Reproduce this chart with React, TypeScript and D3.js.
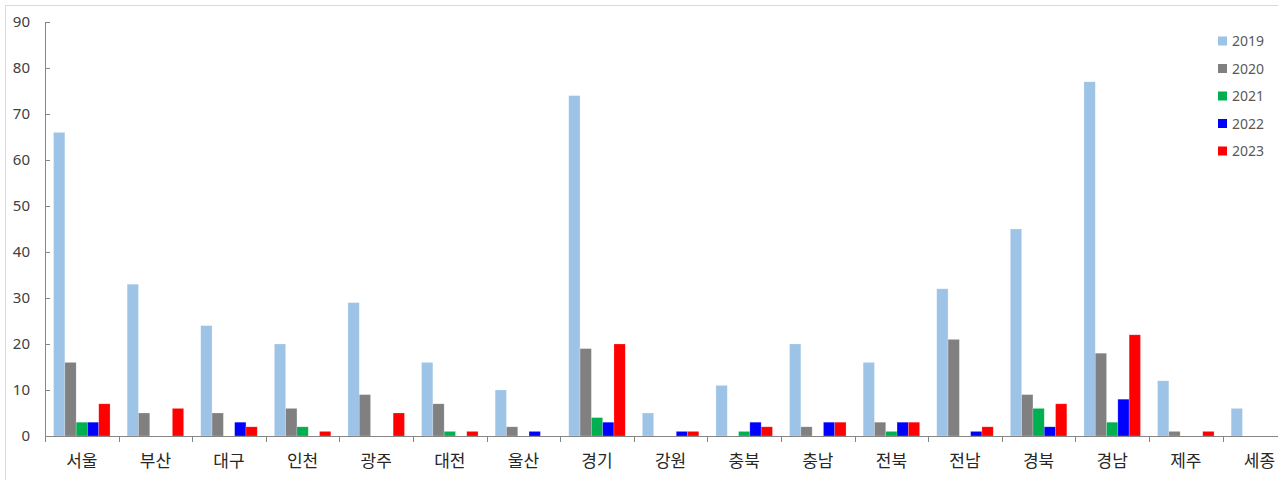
import React, { useEffect, useRef } from 'react';
import * as d3 from 'd3';

const regions = ['서울', '부산', '대구', '인천', '광주', '대전', '울산', '경기', '강원', '충북', '충남', '전북', '전남', '경북', '경남', '제주', '세종'];
const years = ['2019', '2020', '2021', '2022', '2023'];
const v2019 = [66, 33, 24, 20, 29, 16, 10, 74, 5, 11, 20, 16, 32, 45, 77, 12, 6];
const v2020 = [16, 5, 5, 6, 9, 7, 2, 19, 0, 0, 2, 3, 21, 9, 18, 1, 0];
const v2021 = [3, 0, 0, 2, 0, 1, 0, 4, 0, 1, 0, 1, 0, 6, 3, 0, 0];
const v2022 = [3, 0, 3, 0, 0, 0, 1, 3, 1, 3, 3, 3, 1, 2, 8, 0, 0];
const v2023 = [7, 6, 2, 1, 5, 1, 0, 20, 1, 2, 3, 3, 2, 7, 22, 1, 0];
const colors = ['#9DC3E6', '#808080', '#00B050', '#0000FF', '#FF0000'];
const yTicks = [0, 10, 20, 30, 40, 50, 60, 70, 80, 90];

const W = 1287;
const H = 480;

const App = () => {
    const svgRef = useRef<SVGSVGElement | null>(null);

    useEffect(() => {
        if (!svgRef.current) return;
        const svg = d3.select(svgRef.current);
        svg.selectAll('*').remove();

        const series = [v2019, v2020, v2021, v2022, v2023];
        const left = 45;
        const step = 73.6;

        // scales
        const x = d3.scaleBand<string>()
            .domain(regions)
            .range([left, left + step * regions.length])
            .padding(0);
        const x1 = d3.scaleBand<string>()
            .domain(years)
            .range([8.55, step - 8.55])
            .padding(0);
        const y = d3.scaleLinear().domain([0, 90]).range([436, 22]);

        // outer frame (top and left edges visible)
        svg.append('path')
            .attr('d', `M5.5,${H} V5.5 H1278`)
            .attr('fill', 'none')
            .attr('stroke', '#D9D9D9');

        // bars
        const groups = svg.append('g')
            .selectAll('g')
            .data(regions)
            .enter()
            .append('g')
            .attr('transform', (d) => `translate(${x(d)},0)`);

        groups.selectAll('rect')
            .data((_, i) => years.map((yr, j) => ({ yr, v: series[j][i], c: colors[j] })))
            .enter()
            .filter((d) => d.v > 0)
            .append('rect')
            .attr('x', (d) => x1(d.yr)!)
            .attr('y', (d) => y(d.v))
            .attr('width', x1.bandwidth())
            .attr('height', (d) => y(0) - y(d.v))
            .attr('fill', (d) => d.c)
            .attr('stroke', '#ffffff')
            .attr('stroke-opacity', 0.35)
            .attr('stroke-width', 0.6);

        // y axis
        const axisColor = '#868686';
        svg.append('line')
            .attr('x1', left + 0.5).attr('x2', left + 0.5)
            .attr('y1', y(90)).attr('y2', y(0))
            .attr('stroke', axisColor);
        svg.append('g')
            .selectAll('line')
            .data(yTicks)
            .enter()
            .append('line')
            .attr('x1', left).attr('x2', left + 5)
            .attr('y1', (d) => Math.round(y(d)) + 0.5)
            .attr('y2', (d) => Math.round(y(d)) + 0.5)
            .attr('stroke', axisColor);
        svg.append('g')
            .selectAll('text')
            .data(yTicks)
            .enter()
            .append('text')
            .attr('x', 30)
            .attr('y', (d) => y(d))
            .attr('dy', '0.36em')
            .attr('text-anchor', 'end')
            .attr('font-family', '"Noto Sans", "DejaVu Sans", sans-serif')
            .attr('font-size', 15)
            .attr('fill', '#404040')
            .text((d) => d);

        // x axis
        svg.append('line')
            .attr('x1', left).attr('x2', 1278)
            .attr('y1', y(0) + 0.5).attr('y2', y(0) + 0.5)
            .attr('stroke', axisColor);
        const xTicks = d3.range(regions.length + 1).map((i) => left + i * step);
        svg.append('g')
            .selectAll('line')
            .data(xTicks)
            .enter()
            .append('line')
            .attr('x1', (d) => Math.round(d) + 0.5)
            .attr('x2', (d) => Math.round(d) + 0.5)
            .attr('y1', y(0)).attr('y2', y(0) + 6)
            .attr('stroke', axisColor);
        svg.append('g')
            .selectAll('text')
            .data(regions)
            .enter()
            .append('text')
            .attr('x', (d) => x(d)! + step / 2)
            .attr('y', 461)
            .attr('dy', '0.36em')
            .attr('text-anchor', 'middle')
            .attr('font-family', '"Noto Sans CJK KR", sans-serif')
            .attr('font-size', 17)
            .attr('fill', '#262626')
            .text((d) => d);

        // legend
        const legend = svg.append('g')
            .selectAll('g')
            .data(years)
            .enter()
            .append('g')
            .attr('transform', (_, i) => `translate(1218,${41 + i * 27.5})`);
        legend.append('rect')
            .attr('x', 0).attr('y', -4.5)
            .attr('width', 9).attr('height', 9)
            .attr('fill', (_, i) => colors[i]);
        legend.append('text')
            .attr('x', 14)
            .attr('y', 0)
            .attr('dy', '0.36em')
            .attr('font-family', '"Noto Sans", "DejaVu Sans", sans-serif')
            .attr('font-size', 14)
            .attr('fill', '#595959')
            .text((d) => d);
    }, []);

    return (
        <svg ref={svgRef} width={W} height={H} style={{ position: 'absolute', left: 0, top: 0, background: '#fff' }}></svg>
    );
};

export default App;
